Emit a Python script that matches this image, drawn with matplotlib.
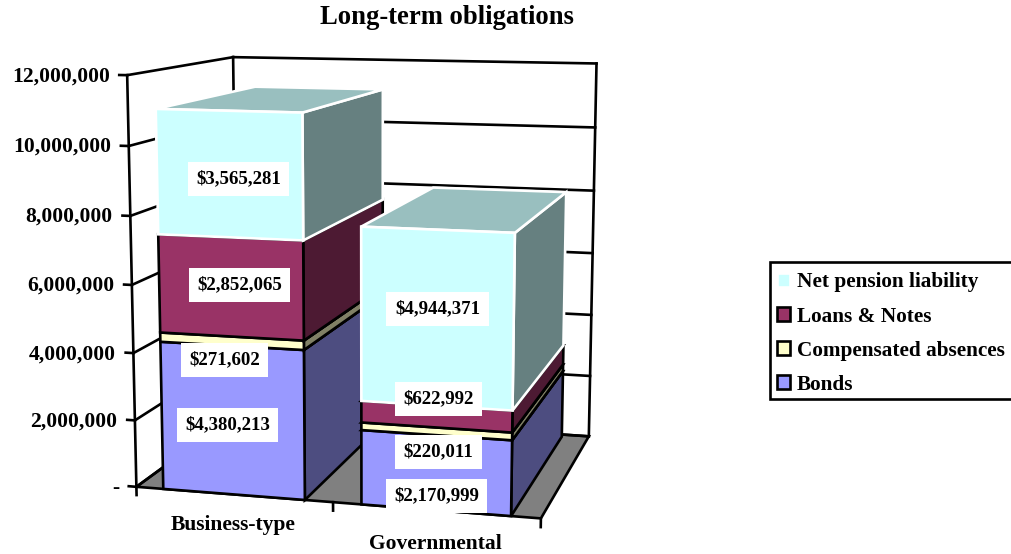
import numpy as np
import matplotlib
matplotlib.use("Agg")
import matplotlib.pyplot as plt
from matplotlib.patches import Polygon, Patch, Rectangle

# ---- data ----
categories = ["Business-type", "Governmental"]
series_names = ["Bonds", "Compensated absences", "Loans & Notes", "Net pension liability"]
bonds = [4380213, 2170999]
compensated = [271602, 220011]
loans = [2852065, 622992]
pension = [3565281, 4944371]
y_ticks = [0, 2000000, 4000000, 6000000, 8000000, 10000000, 12000000]
title = "Long-term obligations"

# ---- styles ----
front_cols = ["#9999FF", "#FFFFCC", "#993366", "#CCFFFF"]
side_cols = ["#4D4D80", "#808066", "#4D1A33", "#668080"]
top_cols = ["#7373BF", "#BFBF99", "#732640", "#99BFBF"]
edge_cols = ["black", "black", "black", "white"]
FONT = "Liberation Serif"
LW = 1.9

# ---- calibration of the chart's 3D box -> image pixels (u category, v millions, w depth, weight) ----
calib = [
    (0, 12, 0, 126, 75, 4), (0, 10, 0, 129, 146, 4), (0, 8, 0, 131, 216, 4), (0, 6, 0, 132, 285, 4),
    (0, 4, 0, 134, 353, 4), (0, 2, 0, 135, 420, 4), (0, 0, 0, 136, 487, 4),
    (2, 12, 1, 597, 64, 2), (2, 10, 1, 595, 127, 1), (2, 8, 1, 594, 190, 1), (2, 6, 1, 592, 252, 1),
    (2, 4, 1, 591, 314, 1), (2, 2, 1, 590, 375, 1), (2, 0, 1, 589, 436, 2),
    (0, 12, 1, 233, 57, 2), (0, 0, 1, 233, 416, 1),
    (2, 0, 0, 541, 519, 2), (1, 0, 0, 332, 505, 1),
    (.14, 0, 0, 163, 488, 1), (.86, 0, 0, 303, 499, 1),
    (.14, 11.07, 0, 157, 110, 1), (.86, 11.07, 0, 302, 112, 1),
    (.86, 11.07, .97, 383, 91, 1), (.14, 11.07, .97, 258, 87, 1),
    (1.14, 0, 0, 362, 504, 1), (1.86, 0, 0, 511, 517, 1), (1.86, 0, .97, 563, 435, 1),
    (1.14, 7.96, 0, 360, 227, 1), (1.86, 7.96, 0, 514, 233, 1),
    (1.86, 7.96, .97, 564, 193, 1), (1.14, 7.96, .97, 435, 187, 1),
]
A = []
for u, v, w, px, py, wt in calib:
    p = [u, v, w, 1]
    A.append([wt * c for c in p + [0, 0, 0, 0] + [-px * c for c in p]])
    A.append([wt * c for c in [0, 0, 0, 0] + p + [-py * c for c in p]])
P = np.linalg.svd(np.array(A, float))[2][-1].reshape(3, 4)


def proj(u, val, w):
    q = P @ np.array([u, val / 1e6, w, 1.0])
    return q[0] / q[2], q[1] / q[2]


fig = plt.figure(figsize=(10.12, 5.54), dpi=100)
ax = fig.add_axes([0, 0, 1, 1])
ax.set_xlim(0, 1012)
ax.set_ylim(554, 0)
ax.axis("off")


def line(a, b, z=2, lw=LW):
    ax.plot(*zip(proj(*a), proj(*b)), color="black", lw=lw, zorder=z, solid_capstyle="projecting")


def poly(pts, fc, ec, z):
    ax.add_patch(Polygon([proj(*p) for p in pts], closed=True, fc=fc, ec=ec, lw=LW, zorder=z, joinstyle="miter"))


# floor
poly([(0, 0, 0), (2, 0, 0), (2, 0, 1), (0, 0, 1)], "#808080", "black", 1)
vtop = max(y_ticks)
# walls and gridlines
for t in y_ticks:
    line((0, t, 0), (0, t, 1))
    line((0, t, 1), (2, t, 1))
    line((0, t, 0), (-.04, t, 0))
    lx, ly = proj(0, t, 0)
    ax.text(lx - 17.5, ly + 1, f"{t:,}" if t else "-", ha="right", va="center", family=FONT,
            weight="bold", fontsize=15.6, color="black", zorder=8)
line((0, 0, 0), (0, vtop, 0))
line((0, 0, 1), (0, vtop, 1))
line((2, 0, 1), (2, vtop, 1))
# category ticks
for u in [0, 1, 2]:
    line((u, 0, 0), (u, -250000, 0))

# stacked boxes
series = [bonds, compensated, loans, pension]
GAP = .14
DEPTH = .97
z = 3.0
for i in range(len(categories)):
    base = 0
    u0, u1 = i + GAP, i + 1 - GAP
    for s, vals in enumerate(series):
        top = base + vals[i]
        ec = edge_cols[s]
        poly([(u1, base, 0), (u1, base, DEPTH), (u1, top, DEPTH), (u1, top, 0)], side_cols[s], ec, z)
        poly([(u0, top, 0), (u1, top, 0), (u1, top, DEPTH), (u0, top, DEPTH)], top_cols[s], ec, z + .01)
        poly([(u0, base, 0), (u1, base, 0), (u1, top, 0), (u0, top, 0)], front_cols[s], ec, z + .02)
        base = top
        z += .1

# value labels in white boxes (centre, in pixels)
label_pos = [
    [(227.5, 424.5), (224.5, 359.5), (239.5, 284.5), (238.5, 178.5)],
    [(436.5, 495.5), (438.5, 451.5), (438.5, 398.5), (437.5, 308.5)],
]
for i in range(len(categories)):
    for s, vals in enumerate(series):
        x, y = label_pos[i][s]
        ax.text(x, y, f"${vals[i]:,}", ha="center", va="center", family=FONT, weight="bold",
                fontsize=13.6, color="black", zorder=9,
                bbox=dict(boxstyle="square,pad=0.45", fc="white", ec="none"))

# category labels
cat_offset = [31, 34]
for i, c in enumerate(categories):
    x, y = proj(i + .5, 0, 0)
    ax.text(x, y + cat_offset[i], c, ha="center", va="center", family=FONT, weight="bold", fontsize=15.5, zorder=8)

ax.text(446.5, 18, title, ha="center", va="center", family=FONT, weight="bold", fontsize=19.2)

# legend: frame runs off the right edge of the picture
ax.add_patch(Rectangle((770, 262), 260, 137, fc="white", ec="black", lw=LW, zorder=10))
handles = [Patch(fc=front_cols[s], ec="white" if edge_cols[s] == "white" else "black", lw=LW, label=series_names[s])
           for s in [3, 2, 1, 0]]
leg = ax.legend(handles=handles, loc="upper left", bbox_to_anchor=(769.5 / 1012, 1 - 265 / 554),
                bbox_transform=ax.transAxes, borderaxespad=0, frameon=False,
                prop=dict(family=FONT, weight="bold", size=15.3),
                handlelength=.62, handleheight=.62, handletextpad=.31, labelspacing=.665, borderpad=.35)
leg.set_zorder(11)

fig.savefig("out.png", dpi=100)
